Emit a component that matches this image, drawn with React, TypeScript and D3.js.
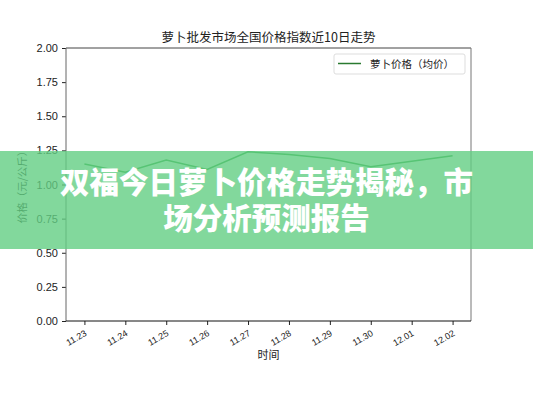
import { useEffect, useRef } from "react";
import * as d3 from "d3";

const W = 533;
const H = 400;
const PAD = { top: 48, right: 62, bottom: 79, left: 66 };

const dates = ["11.23", "11.24", "11.25", "11.26", "11.27", "11.28", "11.29", "11.30", "12.01", "12.02"];
const prices = [1.15, 1.09, 1.18, 1.11, 1.24, 1.22, 1.19, 1.13, 1.17, 1.21];
const yTicks = [0, 0.25, 0.5, 0.75, 1.0, 1.25, 1.5, 1.75, 2.0];

const FONT = "'Noto Sans CJK SC', 'DejaVu Sans', sans-serif";
const NUM_FONT = "'Liberation Sans', Arial, sans-serif";

export default function App() {
  const svgRef = useRef<SVGSVGElement>(null);

  useEffect(() => {
    const svg = d3.select(svgRef.current);
    if (!svg.node()) return;
    svg.selectAll("*").remove();

    const x0 = PAD.left;
    const x1 = W - PAD.right;
    const y0 = H - PAD.bottom;
    const y1 = PAD.top;

    // matplotlib-style 5% margin on the x axis
    const n = dates.length - 1;
    const x = d3
      .scaleLinear()
      .domain([-0.05 * n, n + 0.05 * n])
      .range([x0, x1]);
    const y = d3.scaleLinear().domain([0, 2]).range([y0, y1]);

    svg.append("rect").attr("width", W).attr("height", H).attr("fill", "#fff");

    // y axis
    const ya = svg
      .append("g")
      .attr("transform", `translate(${x0},0)`)
      .call(
        d3
          .axisLeft(y)
          .tickValues(yTicks)
          .tickSize(4)
          .tickPadding(4)
          .tickFormat((v) => d3.format(".2f")(v as number)),
      );
    ya.select(".domain").remove();
    ya.selectAll("line").attr("stroke", "#222");
    ya.selectAll("text")
      .attr("fill", "#222")
      .style("font-size", "11px")
      .style("font-family", NUM_FONT);

    // x axis
    const xa = svg
      .append("g")
      .attr("transform", `translate(0,${y0})`)
      .call(
        d3
          .axisBottom(x)
          .tickValues(d3.range(dates.length))
          .tickSize(4)
          .tickFormat((_v, i) => dates[i]),
      );
    xa.select(".domain").remove();
    xa.selectAll("line").attr("stroke", "#222");
    xa.selectAll("text")
      .attr("fill", "#222")
      .attr("text-anchor", "end")
      .attr("dy", 0)
      .attr("transform", "translate(-1,8) rotate(-30)")
      .style("font-size", "9px")
      .style("font-family", NUM_FONT);

    // spines
    const spines = svg.append("g").attr("fill", "none");
    spines.append("line").attr("x1", x0).attr("x2", x1).attr("y1", y1).attr("y2", y1).attr("stroke", "#444");
    spines.append("line").attr("x1", x0).attr("x2", x0).attr("y1", y1).attr("y2", y0).attr("stroke", "#666");
    spines.append("line").attr("x1", x1).attr("x2", x1).attr("y1", y1).attr("y2", y0).attr("stroke", "#777");
    spines.append("line").attr("x1", x0).attr("x2", x1).attr("y1", y0).attr("y2", y0).attr("stroke", "#111");

    // price line
    const line = d3
      .line<number>()
      .x((_d, i) => x(i))
      .y((d) => y(d));
    svg
      .append("path")
      .datum(prices)
      .attr("d", line)
      .attr("fill", "none")
      .attr("stroke", "#2a9a3a")
      .attr("stroke-width", 1.5);

    // title and axis labels
    svg
      .append("text")
      .attr("x", (x0 + x1) / 2)
      .attr("y", 42)
      .attr("text-anchor", "middle")
      .attr("fill", "#222")
      .style("font-size", "12.5px")
      .style("font-family", FONT)
      .text("萝卜批发市场全国价格指数近10日走势");

    svg
      .append("text")
      .attr("x", (x0 + x1) / 2)
      .attr("y", 359)
      .attr("text-anchor", "middle")
      .attr("fill", "#222")
      .style("font-size", "11px")
      .style("font-family", FONT)
      .text("时间");

    svg
      .append("text")
      .attr("transform", `translate(26,${(y0 + y1) / 2}) rotate(-90)`)
      .attr("text-anchor", "middle")
      .attr("fill", "#222")
      .style("font-size", "10.5px")
      .style("font-family", FONT)
      .text("价格（元/公斤）");

    // legend
    const lg = svg.append("g").attr("transform", "translate(334,54)");
    lg.append("rect")
      .attr("width", 131)
      .attr("height", 20)
      .attr("rx", 2)
      .attr("fill", "#fff")
      .attr("stroke", "#ddd");
    lg.append("line")
      .attr("x1", 4)
      .attr("x2", 27)
      .attr("y1", 9.5)
      .attr("y2", 9.5)
      .attr("stroke", "#2a7a30")
      .attr("stroke-width", 1.5);
    lg.append("text")
      .attr("x", 36)
      .attr("y", 13.5)
      .attr("fill", "#222")
      .style("font-size", "10.5px")
      .style("font-family", FONT)
      .text("萝卜价格（均价）");

    // overlay banner
    svg
      .append("rect")
      .attr("x", 0)
      .attr("y", 151)
      .attr("width", W)
      .attr("height", 98)
      .attr("fill", "rgb(99,206,131)")
      .attr("fill-opacity", 0.8);

    const banner = ["双福今日萝卜价格走势揭秘，市", "场分析预测报告"];
    svg
      .append("g")
      .selectAll("text")
      .data(banner)
      .enter()
      .append("text")
      .attr("x", W / 2)
      .attr("y", (_d, i) => 193 + i * 36)
      .attr("text-anchor", "middle")
      .attr("fill", "#fff")
      .style("font-size", "29.5px")
      .style("font-weight", "900")
      .style("font-family", FONT)
      .text((d) => d);
  }, []);

  return (
    <svg
      ref={svgRef}
      width={W}
      height={H}
      style={{ position: "absolute", left: 0, top: 0 }}
    />
  );
}
